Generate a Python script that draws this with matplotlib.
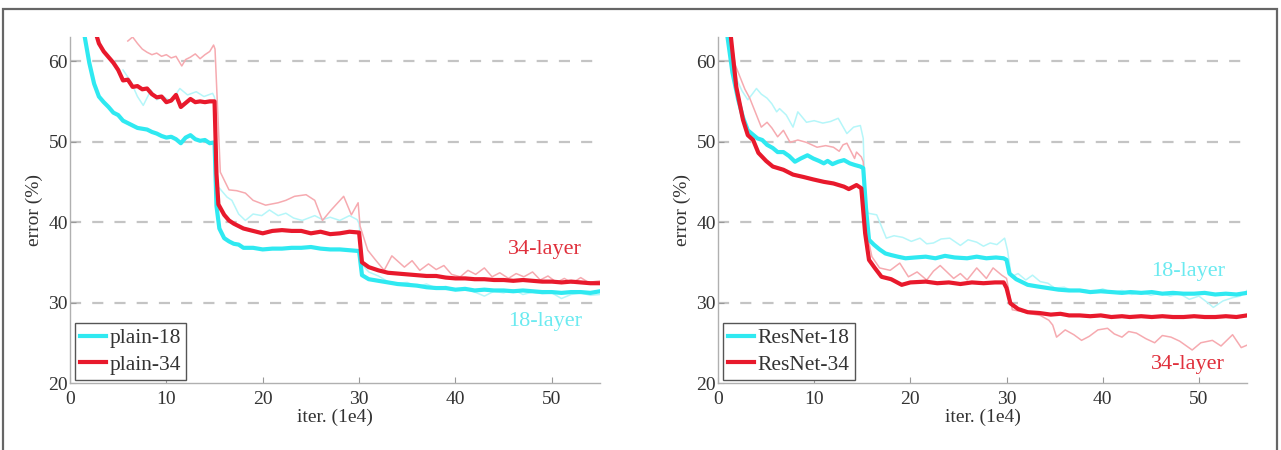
import matplotlib
matplotlib.use("Agg")
import matplotlib.pyplot as plt
from matplotlib.patches import Rectangle

# ---------------- data (iter in 1e4, error in %) ----------------
# Left panel: plain networks
plain18_val_x = [1.5, 2, 2.5, 3, 3.5, 4, 4.5, 5, 5.5, 6, 6.5, 7, 7.5, 8, 8.5, 9, 9.5, 10, 10.5, 11, 11.5, 12, 12.5, 13, 13.5, 14, 14.5, 15,
                 15.2, 15.5, 16, 16.5, 17, 17.5, 18, 19, 20, 21, 22, 23, 24, 25, 26, 27, 28, 29, 30,
                 30.3, 31, 32, 33, 34, 35, 36, 37, 38, 39, 40, 41, 42, 43, 44, 45, 46, 47, 48, 49, 50, 51, 52, 53, 54, 55]
plain18_val = [63.2, 59.8, 57.2, 55.6, 54.9, 54.3, 53.6, 53.3, 52.6, 52.3, 52.0, 51.7, 51.6, 51.5, 51.2, 51.0, 50.7, 50.5, 50.6, 50.3, 49.8, 50.5, 50.8, 50.3, 50.1, 50.2, 49.8, 49.9,
               42.0, 39.2, 38.0, 37.6, 37.3, 37.2, 36.8, 36.8, 36.6, 36.7, 36.7, 36.8, 36.8, 36.9, 36.7, 36.6, 36.6, 36.5, 36.4,
               33.4, 32.9, 32.7, 32.5, 32.3, 32.2, 32.1, 31.9, 31.8, 31.8, 31.6, 31.7, 31.5, 31.6, 31.5, 31.5, 31.4, 31.5, 31.4, 31.3, 31.3, 31.2, 31.3, 31.3, 31.2, 31.4]

plain34_val_x = [2.8, 3, 3.5, 4, 4.5, 5, 5.5, 6, 6.5, 7, 7.5, 8, 8.5, 9, 9.5, 10, 10.5, 11, 11.5, 12, 12.5, 13, 13.5, 14, 14.5, 15,
                 15.2, 15.4, 16, 16.5, 17, 17.5, 18, 19, 20, 21, 22, 23, 24, 25, 26, 27, 28, 29, 30,
                 30.3, 31, 32, 33, 34, 35, 36, 37, 38, 39, 40, 41, 42, 43, 44, 45, 46, 47, 48, 49, 50, 51, 52, 53, 54, 55]
plain34_val = [63.0, 62.2, 61.2, 60.5, 59.8, 58.9, 57.6, 57.7, 56.8, 56.9, 56.5, 56.6, 55.9, 55.5, 55.6, 54.9, 55.1, 55.8, 54.3, 54.8, 55.3, 54.9, 55.0, 54.9, 55.0, 55.0,
               46.0, 42.2, 40.9, 40.2, 39.8, 39.5, 39.2, 38.9, 38.6, 38.9, 39.0, 38.9, 38.9, 38.6, 38.8, 38.5, 38.6, 38.8, 38.7,
               35.0, 34.4, 34.0, 33.7, 33.6, 33.5, 33.4, 33.3, 33.3, 33.1, 33.0, 33.0, 32.9, 32.9, 32.8, 32.8, 32.7, 32.8, 32.7, 32.6, 32.6, 32.5, 32.6, 32.5, 32.4, 32.4]

plain18_train_x = [5.5, 6.3, 7.0, 7.6, 8.4, 9.0, 9.7, 10.5, 11.4, 12.2, 13.1, 13.9, 14.8, 15.0,
                   15.3, 16.3, 16.8, 17.5, 18.2, 19.0, 19.9, 20.7, 21.6, 22.4, 23.2, 24.1, 25.4, 26.2, 27.0, 28.0, 29.0, 29.8, 30.0,
                   30.4, 31.0, 32.0, 33.0, 34.0, 35.0, 36.0, 37.0, 38.0, 39.0, 40.0, 41.0, 42.0, 43.0, 44.0, 45.0, 46.0, 47.0, 48.0, 49.0, 50.0, 51.0, 52.0, 53.0, 54.0, 55.0]
plain18_train = [58.9, 57.5, 55.6, 54.5, 56.4, 55.2, 55.6, 55.0, 56.6, 55.8, 56.2, 55.6, 56.0, 55.5,
                 44.5, 43.1, 42.7, 41.0, 40.2, 41.0, 40.8, 41.5, 40.8, 41.1, 40.5, 40.2, 40.8, 40.3, 40.6, 40.2, 40.8, 40.3, 39.8,
                 34.6, 33.8, 33.3, 32.6, 32.4, 32.5, 32.0, 32.3, 31.8, 32.0, 31.5, 31.7, 31.3, 30.8, 31.4, 31.2, 31.6, 31.0, 31.3, 31.1, 31.2, 30.5, 31.0, 31.2, 30.9, 31.0]

plain34_train_x = [6.0, 6.5, 7.0, 7.5, 8.0, 8.5, 9.0, 9.5, 10.0, 10.5, 11.0, 11.6, 12.0, 12.5, 13.0, 13.5, 14.0, 14.5, 14.9, 15.05,
                   15.6, 16.5, 17.3, 18.2, 19.0, 20.3, 21.6, 22.4, 23.3, 24.5, 25.4, 26.2, 27.1, 28.4, 29.2, 29.9, 30.1,
                   30.9, 31.7, 32.6, 33.4, 34.7, 35.5, 36.3, 37.2, 38.0, 38.8, 39.6, 40.5, 41.3, 42.1, 43.0, 43.8, 44.6, 45.5, 46.3, 47.1, 48.0, 48.8, 49.6, 50.5, 51.3, 52.1, 53.0, 53.8, 55.0]
plain34_train = [62.5, 63.0, 62.2, 61.5, 61.1, 60.8, 61.0, 60.6, 60.8, 60.4, 60.6, 59.4, 60.2, 60.5, 60.9, 60.3, 60.8, 61.2, 62.0, 61.5,
                 46.2, 44.0, 43.9, 43.6, 42.7, 42.1, 42.4, 42.7, 43.2, 43.4, 42.7, 40.2, 41.5, 43.2, 40.9, 42.4, 39.5,
                 36.5, 35.3, 34.0, 35.8, 34.4, 35.2, 34.0, 34.8, 34.1, 34.6, 33.5, 33.2, 34.0, 33.5, 34.3, 33.2, 33.7, 33.0, 33.6, 33.2, 33.8, 32.8, 33.3, 32.5, 33.0, 32.4, 33.1, 32.5, 32.7]

# Right panel: residual networks
res18_val_x = [1.0, 1.5, 2.1, 2.6, 3.1, 3.6, 4.1, 4.6, 5.1, 5.7, 6.2, 6.8, 7.4, 8.0, 8.6, 9.3, 9.9, 10.5, 11.0, 11.4, 11.9, 12.5, 13.1, 13.7, 14.2, 14.8,
               15.1, 15.4, 15.7, 16.2, 16.8, 17.4, 18.0, 18.7, 19.5, 20.5, 21.6, 22.6, 23.6, 24.6, 25.9, 26.9, 27.9, 28.9, 29.7,
               30.0, 30.3, 31.0, 32.2, 33.2, 34.3, 35.4, 36.5, 37.6, 38.7, 39.8, 40.9, 42.0, 42.9, 44.0, 45.1, 46.2, 47.3, 48.4, 49.5, 50.6, 51.7, 52.8, 53.9, 55.0]
res18_val = [62.9, 58.6, 55.2, 53.0, 51.4, 50.9, 50.4, 50.2, 49.6, 49.2, 48.7, 48.7, 48.2, 47.5, 47.9, 48.3, 47.9, 47.6, 47.3, 47.6, 47.2, 47.5, 47.7, 47.3, 47.1, 46.9,
             46.7, 41.5, 37.8, 37.2, 36.6, 36.1, 35.9, 35.7, 35.5, 35.6, 35.7, 35.5, 35.8, 35.6, 35.5, 35.7, 35.5, 35.6, 35.5,
             35.3, 33.6, 32.9, 32.2, 32.0, 31.8, 31.6, 31.5, 31.5, 31.3, 31.4, 31.3, 31.2, 31.3, 31.2, 31.3, 31.1, 31.2, 31.1, 31.1, 31.2, 31.0, 31.1, 31.0, 31.2]

res34_val_x = [1.35, 1.9, 2.6, 3.1, 3.65, 4.2, 5.0, 5.7, 6.8, 7.8, 8.9, 9.9, 11.0, 12.0, 13.1, 13.6, 14.4, 14.9,
               15.3, 15.7, 16.3, 17.0, 18.0, 19.1, 20.0, 21.6, 22.8, 24.0, 25.2, 26.4, 27.6, 28.8, 29.7,
               30.0, 30.4, 31.2, 32.2, 33.4, 34.6, 35.6, 36.5, 37.6, 38.7, 39.8, 40.9, 42.0, 42.8, 44.0, 45.1, 46.2, 47.3, 48.4, 49.5, 50.6, 51.7, 52.8, 53.9, 55.0]
res34_val = [62.9, 56.8, 52.7, 50.8, 50.2, 48.6, 47.6, 46.9, 46.5, 45.9, 45.6, 45.3, 45.0, 44.8, 44.4, 44.1, 44.6, 44.2,
             38.6, 35.3, 34.3, 33.2, 32.9, 32.2, 32.5, 32.6, 32.4, 32.5, 32.3, 32.5, 32.4, 32.5, 32.5,
             31.8, 29.9, 29.2, 28.8, 28.7, 28.5, 28.6, 28.4, 28.4, 28.3, 28.4, 28.2, 28.3, 28.2, 28.3, 28.2, 28.3, 28.2, 28.2, 28.3, 28.2, 28.2, 28.3, 28.2, 28.4]

res18_train_x = [1.0, 1.5, 2.0, 2.5, 3.1, 3.5, 4.0, 4.5, 5.1, 5.6, 6.1, 6.4, 7.1, 7.8, 8.3, 9.2, 10.0, 10.9, 11.7, 12.5, 13.4, 14.1, 14.8, 15.1,
                 15.3, 15.6, 16.5, 17.5, 18.3, 19.2, 20.1, 21.0, 21.7, 22.4, 23.2, 24.1, 25.2, 26.0, 26.9, 27.6, 28.3, 29.0, 29.8, 30.1,
                 30.5, 31.2, 32.0, 32.7, 33.5, 34.3, 35.0, 36.0, 37.0, 38.0, 39.0, 40.0, 41.0, 42.0, 43.0, 44.0, 45.0, 46.0, 47.0, 48.0, 49.0, 50.0, 51.0, 51.5, 52.5, 53.5, 54.3, 55.0]
res18_train = [63.0, 60.0, 57.6, 56.3, 55.2, 55.8, 56.6, 55.9, 55.4, 54.7, 53.7, 54.1, 53.3, 51.8, 53.7, 52.4, 52.6, 52.3, 52.5, 52.9, 51.0, 51.8, 52.0, 50.4,
               43.0, 41.1, 40.9, 38.0, 38.3, 38.1, 37.6, 38.0, 37.3, 37.4, 37.9, 38.0, 37.1, 37.8, 37.5, 37.0, 37.4, 37.2, 38.0, 36.5,
               33.2, 33.6, 32.8, 33.4, 32.6, 32.4, 31.8, 31.9, 31.4, 31.6, 31.3, 31.7, 31.2, 31.5, 31.0, 31.3, 30.9, 31.2, 30.8, 31.1, 30.4, 30.8, 29.9, 29.4, 30.2, 30.6, 30.8, 31.5]

res34_train_x = [1.35, 1.8, 2.3, 2.8, 3.3, 3.8, 4.5, 5.1, 5.6, 6.2, 6.8, 7.5, 8.3, 9.2, 10.3, 11.2, 12.0, 12.6, 13.0, 13.4, 14.2, 14.4, 14.9, 15.1,
                 15.5, 16.0, 16.8, 17.9, 18.9, 19.8, 20.7, 21.7, 22.4, 23.1, 24.5, 25.2, 25.9, 26.9, 27.9, 28.6, 29.5, 30.0,
                 30.6, 31.5, 32.5, 33.5, 34.4, 34.8, 35.2, 36.1, 37.0, 37.8, 38.6, 39.5, 40.5, 41.2, 42.0, 42.7, 43.5, 44.5, 45.4, 46.2, 47.1, 48.0, 49.3, 50.2, 51.4, 52.3, 53.5, 54.4, 55.0]
res34_train = [62.9, 59.5, 58.0, 56.5, 55.4, 53.9, 51.8, 52.4, 51.7, 50.6, 51.4, 49.9, 50.2, 49.9, 49.3, 49.5, 49.3, 48.8, 49.6, 49.8, 47.9, 48.7, 48.1, 47.5,
               38.5, 35.7, 34.3, 34.0, 34.9, 33.2, 33.8, 32.8, 33.9, 34.6, 33.0, 33.6, 32.8, 34.3, 33.0, 34.3, 33.4, 33.0,
               29.1, 28.9, 28.6, 28.4, 27.8, 27.2, 25.7, 26.6, 26.0, 25.3, 25.8, 26.6, 26.8, 26.1, 25.7, 26.4, 26.2, 25.5, 25.0, 25.9, 25.7, 25.2, 24.1, 25.0, 25.3, 24.6, 26.0, 24.4, 24.7]

xticks = [0, 10, 20, 30, 40, 50]
yticks = [20, 30, 40, 50, 60]
legend_left = ["plain-18", "plain-34"]
legend_right = ["ResNet-18", "ResNet-34"]

# ---------------- style ----------------
CYAN = "#2fe9f1"
RED = "#e8192c"
CYAN_THIN = "#b5f6f9"
RED_THIN = "#f6aab0"
SERIF = ["Liberation Serif", "DejaVu Serif"]

plt.rcParams["font.family"] = SERIF

W, H = 1281, 450
fig = plt.figure(figsize=(W / 100, H / 100), dpi=100)

def px_axes(x0, x1, y_top, y_bot):
    return [x0 / W, 1 - y_bot / H, (x1 - x0) / W, (y_bot - y_top) / H]

ax1 = fig.add_axes(px_axes(70, 600, 37, 383))
ax2 = fig.add_axes(px_axes(718, 1247, 37, 383))

def style(ax):
    ax.set_xlim(0, 55)
    ax.set_ylim(20, 63)
    for s in ["top", "right"]:
        ax.spines[s].set_visible(False)
    for s in ["left", "bottom"]:
        ax.spines[s].set_color("#b0b0b0")
        ax.spines[s].set_linewidth(1.0)
    ax.set_xticks(xticks)
    ax.set_yticks(yticks)
    ax.tick_params(axis="both", direction="in", length=4, width=0.8, color="#999999",
                   labelsize=14, labelcolor="#333333")
    ax.tick_params(axis="x", pad=6)
    ax.tick_params(axis="y", pad=1.5)
    for yv in [30, 40, 50, 60]:
        ax.axhline(yv, color="#c4c4c4", lw=1.6, dashes=(5, 5), zorder=0.5)
    ax.set_xlabel("iter. (1e4)", fontsize=14, color="#333333", labelpad=0)
    ax.set_ylabel("error (%)", fontsize=14, color="#333333", labelpad=4)

style(ax1)
style(ax2)

# Left panel
ax1.plot(plain18_train_x, plain18_train, color=CYAN_THIN, lw=1.1, zorder=2)
ax1.plot(plain34_train_x, plain34_train, color=RED_THIN, lw=1.1, zorder=2)
l18, = ax1.plot(plain18_val_x, plain18_val, color=CYAN, lw=3.0, zorder=3, solid_joinstyle="round")
l34, = ax1.plot(plain34_val_x, plain34_val, color=RED, lw=3.0, zorder=4, solid_joinstyle="round")
ax1.text(49.3, 36.6, "34-layer", color="#e0303c", fontsize=16, ha="center", va="center")
ax1.text(49.3, 27.6, "18-layer", color="#6beaf0", fontsize=16, ha="center", va="center")

# Right panel
ax2.plot(res18_train_x, res18_train, color=CYAN_THIN, lw=1.1, zorder=2)
ax2.plot(res34_train_x, res34_train, color=RED_THIN, lw=1.1, zorder=2)
r18, = ax2.plot(res18_val_x, res18_val, color=CYAN, lw=3.0, zorder=3, solid_joinstyle="round")
r34, = ax2.plot(res34_val_x, res34_val, color=RED, lw=3.0, zorder=4, solid_joinstyle="round")
ax2.text(48.9, 33.9, "18-layer", color="#6beaf0", fontsize=16, ha="center", va="center")
ax2.text(48.9, 22.3, "34-layer", color="#e0303c", fontsize=16, ha="center", va="center")

def add_legend(ax, handles, labels):
    leg = ax.legend(handles, labels, loc="lower left", bbox_to_anchor=(5 / 530, 3 / 346),
                    borderaxespad=0, fontsize=15.5, frameon=True, fancybox=False,
                    handlelength=1.2, handletextpad=0.15, labelspacing=0.3,
                    borderpad=0.25)
    fr = leg.get_frame()
    fr.set_edgecolor("#555555")
    fr.set_linewidth(1.0)
    fr.set_facecolor("white")
    fr.set_alpha(1.0)
    for t in leg.get_texts():
        t.set_color("#333333")
    leg.set_zorder(10)

add_legend(ax1, [l18, l34], legend_left)
add_legend(ax2, [r18, r34], legend_right)

# Outer frame of the figure
fig.patches.append(Rectangle((2.5 / W, -0.05), (1277 - 2.5) / W, 1.05 - 9 / H,
                             transform=fig.transFigure, fill=False,
                             edgecolor="#666666", linewidth=1.6, zorder=0))

fig.savefig("out.png", dpi=100)
